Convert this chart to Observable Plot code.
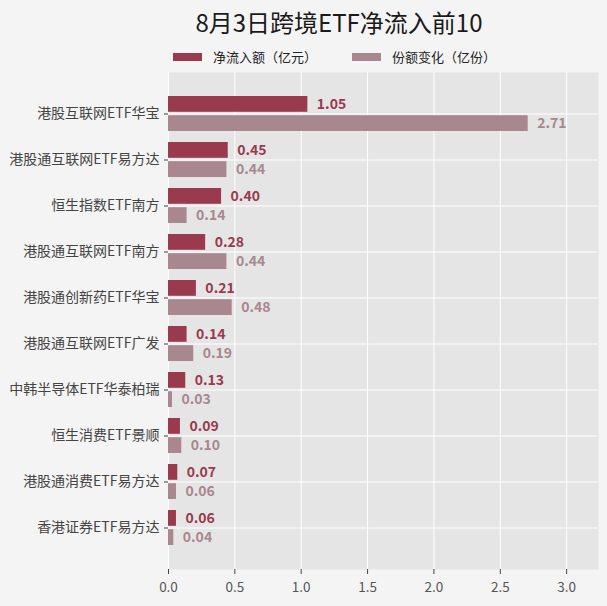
<!DOCTYPE html>
<html>
<head>
<meta charset="utf-8">
<script src="https://cdn.jsdelivr.net/npm/d3@7"></script>
<script src="https://cdn.jsdelivr.net/npm/@observablehq/plot@0.6"></script>
<style>
  html, body { margin: 0; padding: 0; background: #f4f4f4; }
  #wrap { position: relative; width: 607px; height: 606px; overflow: hidden; font-family: "Noto Sans CJK SC", "Noto Sans", sans-serif; }
  #title { position: absolute; left: 71px; width: 536px; top: 5px; text-align: center; font-size: 24px; color: #1a1a1a; line-height: 34px; }
  #legend { position: absolute; top: 47px; left: 173px; font-size: 13px; color: #222; display: flex; align-items: center; line-height: 20px; }
  .sw { display: inline-block; width: 29px; height: 8px; margin-right: 11px; }
  .item { display: flex; align-items: center; margin-right: 35px; }
  #chart { position: absolute; left: 0; top: 0; }
</style>
</head>
<body>
<div id="wrap">
  <div id="chart"></div>
  <div id="title">8月3日跨境ETF净流入前10</div>
  <div id="legend"></div>
</div>
<script>
const categories = ["港股互联网ETF华宝", "港股通互联网ETF易方达", "恒生指数ETF南方", "港股通互联网ETF南方", "港股通创新药ETF华宝", "港股通互联网ETF广发", "中韩半导体ETF华泰柏瑞", "恒生消费ETF景顺", "港股通消费ETF易方达", "香港证券ETF易方达"];
const netInflow = [1.05, 0.45, 0.40, 0.28, 0.21, 0.14, 0.13, 0.09, 0.07, 0.06];
const shareChange = [2.71, 0.44, 0.14, 0.44, 0.48, 0.19, 0.03, 0.10, 0.06, 0.04];
const seriesNames = ["净流入额（亿元）", "份额变化（亿份）"];
const xTicks = [0, 0.5, 1.0, 1.5, 2.0, 2.5, 3.0];
const colors = ["#9a3a4e", "#a8878f"];

const inflowData = categories.map((c, i) => ({name: c, value: netInflow[i]}));
const shareData = categories.map((c, i) => ({name: c, value: shareChange[i]}));

const bw = 35; // approx bandwidth in px
const half = bw / 2 + 1.7;

const chart = Plot.plot({
  width: 607,
  height: 606,
  marginTop: 72,
  marginBottom: 37,
  marginLeft: 168,
  marginRight: 9,
  style: {background: "transparent", fontFamily: "'Noto Sans CJK SC', 'Noto Sans', sans-serif", fontSize: "14px", color: "#444"},
  x: {domain: [0, 3.24], ticks: xTicks, tickFormat: d3.format(".1f"), label: null},
  y: {domain: categories, paddingInner: 0.248, paddingOuter: 0.4625, label: null},
  marks: [
    Plot.frame({fill: "#e5e5e5", stroke: null}),
    Plot.gridX({ticks: xTicks, stroke: "#ffffff", strokeOpacity: 1, strokeWidth: 1}),
    Plot.gridY({stroke: "#ffffff", strokeOpacity: 1, strokeWidth: 1}),
    Plot.barX(inflowData, {x: "value", y: "name", fill: colors[0], insetBottom: half}),
    Plot.barX(shareData, {x: "value", y: "name", fill: colors[1], insetTop: half}),
    Plot.text(inflowData, {x: "value", y: "name", text: d => d3.format(".2f")(d.value), dx: 9, dy: -9.5, textAnchor: "start", fill: colors[0], fontWeight: "bold", fontSize: 14}),
    Plot.text(shareData, {x: "value", y: "name", text: d => d3.format(".2f")(d.value), dx: 9, dy: 9.5, textAnchor: "start", fill: colors[1], fontWeight: "bold", fontSize: 14}),
    Plot.axisX({ticks: xTicks, tickFormat: d3.format(".1f"), tickSize: 5, tickPadding: 8, stroke: "#444", fill: "#555", fontSize: 13.5}),
    Plot.axisY({tickSize: 4, tickPadding: 5, stroke: "#444", fill: "#444", fontSize: 14})
  ]
});
document.getElementById("chart").appendChild(chart);

const legend = document.getElementById("legend");
seriesNames.forEach((n, i) => {
  const item = document.createElement("div");
  item.className = "item";
  const sw = document.createElement("span");
  sw.className = "sw";
  sw.style.background = colors[i];
  const t = document.createElement("span");
  t.textContent = n;
  item.appendChild(sw);
  item.appendChild(t);
  legend.appendChild(item);
});
</script>
</body>
</html>
